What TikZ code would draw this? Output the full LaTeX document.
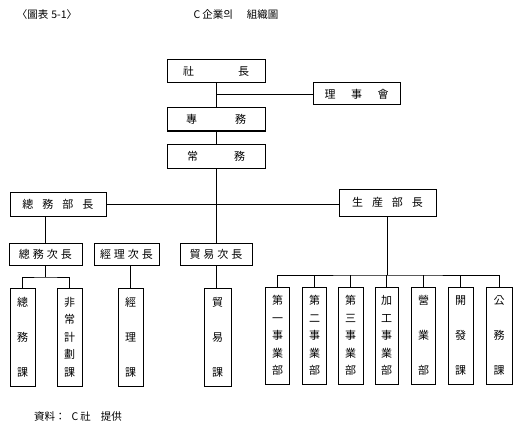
\documentclass[tikz,border=0pt]{standalone}
\usepackage{fontspec}
\setmainfont{Noto Sans CJK KR}[BoldFont={Noto Sans CJK KR Bold}]
\begin{document}
\begin{tikzpicture}[x=1pt,y=-1pt,
  box/.style={draw,line width=1pt,inner sep=0pt,font=\fontsize{11}{12}\selectfont},
  hbox/.style={box,minimum height=23pt},
  vbox/.style={box,minimum width=25pt,minimum height=98pt,align=center},
  vthree/.style={vbox,font=\fontsize{11}{35}\selectfont},
  vfive/.style={vbox,font=\fontsize{11}{17.5}\selectfont},
  link/.style={line width=0.9pt},
  lbl/.style={inner sep=0pt,font=\fontsize{10.5}{12}\selectfont}]
\useasboundingbox (0,0) rectangle (520,428);

% title
\node[lbl] (title) at (47,15) {〈圖表\hspace{3pt}5-1〉};
\node[lbl] (caption) at (236,15) {C\hspace{2pt}企業의\hspace{14pt}組織圖};

% top chain
\node[hbox,minimum width=98pt] (pres) at (216,71.5) {社\hspace{44pt}長};
\node[hbox,minimum width=87pt,minimum height=22pt] (board) at (356.5,94) {理\hspace{15.5pt}事\hspace{15.5pt}會};
\node[hbox,minimum width=98pt] (senior) at (216,119.5) {專\hspace{38pt}務};
\node[hbox,minimum width=98pt,minimum height=24pt] (exec) at (216,156) {常\hspace{36pt}務};

% department heads
\node[hbox,minimum width=96pt,minimum height=24pt] (gad) at (58,204) {總\hspace{9pt}務\hspace{9pt}部\hspace{9pt}長};
\node[hbox,minimum width=97pt,minimum height=27pt] (prod) at (387.5,202.5) {生\hspace{9pt}産\hspace{9pt}部\hspace{9pt}長};

% deputy heads
\node[hbox,minimum width=73pt,minimum height=22pt] (gadd) at (45.5,254) {總\hspace{3pt}務\hspace{3pt}次\hspace{3pt}長};
\node[hbox,minimum width=65pt,minimum height=22pt] (acc) at (126.5,254) {經\hspace{3pt}理\hspace{3pt}次\hspace{3pt}長};
\node[hbox,minimum width=72pt,minimum height=22pt] (trd) at (216,254) {貿\hspace{3pt}易\hspace{3pt}次\hspace{3pt}長};

% sections (left)
\node[vthree] (ga) at (22.5,337) {總\\務\\課};
\node[vfive] (emerg) at (69.5,337) {非\\常\\計\\劃\\課};
\node[vthree] (accs) at (130.5,337) {經\\理\\課};
\node[vthree,minimum width=27pt] (trds) at (217.5,337) {貿\\易\\課};

% production units
\node[vfive,minimum width=24pt,minimum height=97pt] (p1) at (277.5,335.5) {第\\一\\事\\業\\部};
\node[vfive,minimum width=24pt,minimum height=97pt] (p2) at (314.5,335.5) {第\\二\\事\\業\\部};
\node[vfive,minimum width=25pt,minimum height=97pt] (p3) at (350.5,335.5) {第\\三\\事\\業\\部};
\node[vfive,minimum width=23pt,minimum height=97pt] (p4) at (386.5,335.5) {加\\工\\事\\業\\部};
\node[vthree,minimum width=24pt,minimum height=97pt] (p5) at (423.5,335.5) {營\\業\\部};
\node[vthree,minimum width=25pt,minimum height=97pt] (p6) at (460.5,335.5) {開\\發\\課};
\node[vthree,minimum width=26pt,minimum height=97pt] (p7) at (499,335.5) {公\\務\\課};

% source
\node[lbl] (src) at (78,417) {資料：\hspace{6pt}C\hspace{2pt}社\hspace{10pt}提供};

% connectors
\draw[link] (pres.south) -- (senior.north);
\draw[link] (pres.south |- board.west) -- (board.west);
\draw[link] (senior.south) -- (exec.north);
\draw[link] (exec.south) -- (trd.north);
\draw[link] (gad.east) -- (gad.east -| prod.west);
\draw[link] (gadd.north |- gad.south) -- (gadd.north);
\draw[link] (accs.north |- acc.south) -- (accs.north);
\draw[link] (trd.south) -- (trd.south |- trds.north);

\coordinate (gj) at (45.5,277);
\draw[link] (gadd.south) -- (gj);
\draw[link] (ga.north) |- (gj) -| (emerg.north);

\coordinate (pj) at (387.5,275);
\draw[link] (prod.south) -- (pj);
\draw[link] (p1.north) |- (pj) -| (p7.north);
\foreach \n in {p2,p3,p4,p5,p6}
  \draw[link] (\n.north) -- (\n.north |- pj);
\end{tikzpicture}
\end{document}
